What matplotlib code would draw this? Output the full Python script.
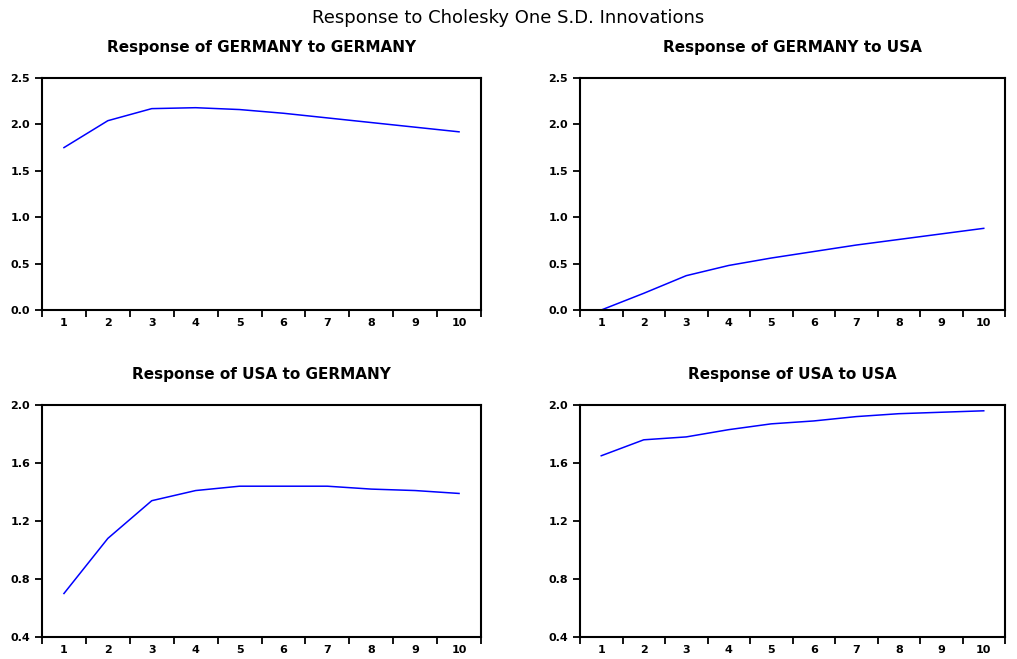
import matplotlib
matplotlib.use("Agg")
import matplotlib.pyplot as plt
from matplotlib.ticker import FixedLocator, NullFormatter

plt.rcParams['font.family'] = ['DejaVu Sans']

periods = [1, 2, 3, 4, 5, 6, 7, 8, 9, 10]

germany_to_germany = [1.75, 2.04, 2.17, 2.18, 2.16, 2.12, 2.07, 2.02, 1.97, 1.92]
germany_to_usa = [0.0, 0.18, 0.37, 0.48, 0.56, 0.63, 0.70, 0.76, 0.82, 0.88]
usa_to_germany = [0.70, 1.08, 1.34, 1.41, 1.44, 1.44, 1.44, 1.42, 1.41, 1.39]
usa_to_usa = [1.65, 1.76, 1.78, 1.83, 1.87, 1.89, 1.92, 1.94, 1.95, 1.96]

titles = ["Response of GERMANY to GERMANY", "Response of GERMANY to USA",
          "Response of USA to GERMANY", "Response of USA to USA"]
top_yticks = [0.0, 0.5, 1.0, 1.5, 2.0, 2.5]
bottom_yticks = [0.4, 0.8, 1.2, 1.6, 2.0]

fig = plt.figure(figsize=(10.17, 6.59), dpi=100)
W, H = 1017, 659

# axes boxes in pixels: left, top, right, bottom
boxes = [(42, 78, 481, 310), (580, 78, 1005, 310),
         (42, 405, 481, 637), (580, 405, 1005, 637)]
series = [germany_to_germany, germany_to_usa, usa_to_germany, usa_to_usa]
yticks = [top_yticks, top_yticks, bottom_yticks, bottom_yticks]

for box, data, title, yt in zip(boxes, series, titles, yticks):
    l, t, r, b = box
    ax = fig.add_axes([l / W, 1 - b / H, (r - l) / W, (b - t) / H])
    ax.plot(periods, data, color='#0000ff', lw=1.1)
    ax.set_xlim(0.5, 10.5)
    ax.set_ylim(yt[0], yt[-1])
    ax.set_yticks(yt)
    ax.set_yticklabels([f"{v:.1f}" for v in yt])
    # tick marks between periods, labels centred on each period
    ax.xaxis.set_major_locator(FixedLocator([p - 0.5 for p in periods] + [10.5]))
    ax.xaxis.set_major_formatter(NullFormatter())
    ax.xaxis.set_minor_locator(FixedLocator(periods))
    ax.set_xticklabels([str(p) for p in periods], minor=True)
    ax.tick_params(axis='x', which='minor', length=0, pad=6, labelsize=8)
    ax.tick_params(axis='both', which='major', length=5, width=1.3, direction='out')
    ax.tick_params(axis='y', labelsize=8)
    for lab in ax.get_xticklabels(minor=True) + ax.get_yticklabels():
        lab.set_fontweight('bold')
    for s in ax.spines.values():
        s.set_linewidth(1.5)
    ax.set_title(title, fontsize=11, fontweight='bold', pad=19)

fig.text(0.5, 1 - 18 / H, "Response to Cholesky One S.D. Innovations",
         ha='center', va='center', fontsize=13)

fig.savefig("out.png", dpi=100)
